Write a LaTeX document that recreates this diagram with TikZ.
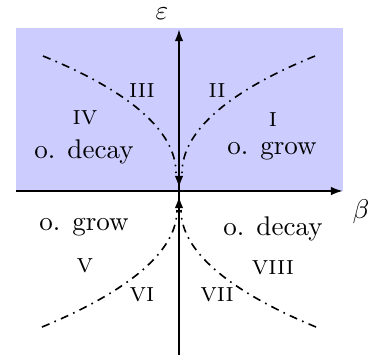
\documentclass[tikz,border=0pt]{standalone}
\usetikzlibrary{arrows.meta}
\definecolor{regionblue}{RGB}{204,204,255}
\begin{document}
\begin{tikzpicture}[x=0.37pt,y=-0.37pt,
  axis/.style={line width=0.8pt},
  tipstyle/.style={-{Latex[length=4.5pt,width=3.2pt]}},
  sep/.style={line width=0.6pt,dash dot},
  lbl/.style={inner sep=0pt}]
\useasboundingbox (0,0) rectangle (374,363);
\fill[regionblue] (16,28) rectangle (343,191);
% coordinates
\coordinate (O) at (179,191);
\coordinate (top) at (179,29);
\coordinate (bot) at (179,355);
\coordinate (left) at (16,191);
\coordinate (right) at (343,191);
\coordinate (dnA) at (179,172);
\coordinate (dnB) at (179,188);
\coordinate (upA) at (179,212);
\coordinate (upB) at (179,196);
\coordinate (UR) at (315,56);
\coordinate (UL) at (43,56);
\coordinate (LR) at (316,327);
\coordinate (LL) at (42,327);
\coordinate (URo) at (182,173);
\coordinate (ULo) at (176,173);
\coordinate (LRo) at (181,210);
\coordinate (LLo) at (177,210);
% separatrices
\draw[sep] (UR) .. controls (229,91) and (182,131) .. (URo);
\draw[sep] (UL) .. controls (129,91) and (176,131) .. (ULo);
\draw[sep] (LR) .. controls (229,291) and (181,251) .. (LRo);
\draw[sep] (LL) .. controls (129,291) and (177,251) .. (LLo);
% axes
\draw[axis,tipstyle] (left) -- (right);
\draw[axis,tipstyle] (bot) -- (top);
\draw[axis,tipstyle] (dnA) -- (dnB);
\draw[axis,tipstyle] (upA) -- (upB);
% axis labels
\node[lbl] (eps) at (162,14) {$\varepsilon$};
\node[lbl] (beta) at (361,212) {$\beta$};
% region labels
\node[lbl] (r3) at (142,91) {\textsc{iii}};
\node[lbl] (r2) at (217,91) {\textsc{ii}};
\node[lbl] (r4) at (85,118) {\textsc{iv}};
\node[lbl] (r1) at (273,120) {\textsc{i}};
\node[lbl] (odUL) at (84,152) {o. decay};
\node[lbl] (ogUR) at (272,151) {o. grow};
\node[lbl] (ogLL) at (84,227) {o. grow};
\node[lbl] (odLR) at (273,229) {o. decay};
\node[lbl] (r5) at (85,266) {\textsc{v}};
\node[lbl] (r8) at (273,268) {\textsc{viii}};
\node[lbl] (r6) at (142,295) {\textsc{vi}};
\node[lbl] (r7) at (217,295) {\textsc{vii}};
\end{tikzpicture}
\end{document}
